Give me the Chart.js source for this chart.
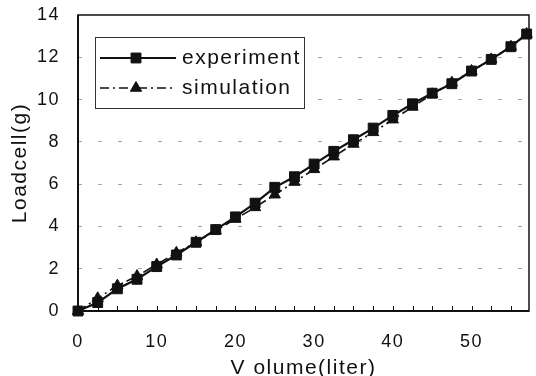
<!DOCTYPE html>
<html>
<head>
<meta charset="utf-8">
<script src="https://cdn.jsdelivr.net/npm/chart.js@4.4.0/dist/chart.umd.min.js"></script>
<style>
html,body{margin:0;padding:0;background:#fff;}
#wrap{width:536px;height:376px;}
</style>
</head>
<body>
<div id="wrap"><canvas id="chart" width="536" height="376"></canvas></div>
<script>
// values
const volume = [0,2.5,5,7.5,10,12.5,15,17.5,20,22.5,25,27.5,30,32.5,35,37.5,40,42.5,45,47.5,50,52.5,55,57];
const experiment = [0,0.4,1.05,1.5,2.1,2.65,3.25,3.85,4.45,5.1,5.85,6.35,6.95,7.55,8.1,8.65,9.25,9.8,10.3,10.75,11.35,11.9,12.5,13.1];
const simulation = [0,0.6,1.2,1.65,2.2,2.75,3.25,3.8,4.35,4.9,5.5,6.1,6.7,7.3,7.9,8.45,9.05,9.65,10.25,10.8,11.35,11.9,12.5,13.1];
const minorTicks = [2.5,5,7.5,10,12.5,15,17.5,20,22.5,25,27.5,30,32.5,35,37.5,40,42.5,45,47.5,50,52.5,55];
const seriesNames = ["experiment","simulation"];

const FONT = "'Liberation Sans', Arial, sans-serif";

function pts(xs, ys){ return xs.map((x,i)=>({x:x,y:ys[i]})); }

const extras = {
  id:'extras',
  beforeDraw(chart){
    chart.ctx.letterSpacing = "1.5px";
  },
  afterDatasetsDraw(chart){
    const ctx = chart.ctx;
    const a = chart.chartArea;
    const xs = chart.scales.x;
    ctx.save();
    ctx.letterSpacing = "0px";
    ctx.strokeStyle = "#111";
    // minor ticks on the bottom axis, pointing inward
    ctx.lineWidth = 1;
    ctx.beginPath();
    minorTicks.forEach(v=>{
      const px = Math.round(xs.getPixelForValue(v)) + 0.5;
      ctx.moveTo(px, a.bottom);
      ctx.lineTo(px, a.bottom - 5);
    });
    ctx.stroke();
    // frame
    ctx.lineWidth = 1.5;
    ctx.strokeRect(a.left, a.top, a.right - a.left, a.bottom - a.top);
    ctx.lineWidth = 2;
    ctx.beginPath();
    ctx.moveTo(a.left, a.top); ctx.lineTo(a.left, a.bottom); ctx.lineTo(a.right, a.bottom);
    ctx.stroke();
    ctx.restore();
  },
  afterDraw(chart){
    const ctx = chart.ctx;
    ctx.save();
    ctx.fillStyle = "#fff";
    ctx.fillRect(95, 37, 209, 71);
    ctx.strokeStyle = "#333";
    ctx.lineWidth = 1;
    ctx.strokeRect(95.5, 37.5, 209, 71);
    chart.data.datasets.forEach((ds, i)=>{
      const y = 58 + i*30;
      ctx.strokeStyle = "#111";
      ctx.fillStyle = "#111";
      ctx.lineWidth = ds.borderWidth;
      ctx.setLineDash(ds.borderDash || []);
      ctx.beginPath();
      ctx.moveTo(100, y); ctx.lineTo(176, y);
      ctx.stroke();
      ctx.setLineDash([]);
      ctx.lineWidth = 1;
      Chart.helpers.drawPoint(ctx, {pointStyle: ds.pointStyle, radius: ds.pointRadius, borderWidth: 1}, 136, y);
      ctx.letterSpacing = "1.5px";
      ctx.font = "21px " + FONT;
      ctx.textBaseline = "middle";
      ctx.textAlign = "left";
      ctx.fillText(seriesNames[i], 182, y);
    });
    ctx.restore();
  }
};

new Chart(document.getElementById("chart"), {
  type: "scatter",
  data: {
    datasets: [
      {
        label: seriesNames[0],
        data: pts(volume, experiment),
        showLine: true,
        borderColor: "#111",
        backgroundColor: "#111",
        borderWidth: 2.2,
        pointStyle: "rect",
        pointRadius: 7,
        pointBorderWidth: 1,
        clip: false
      },
      {
        label: seriesNames[1],
        data: pts(volume, simulation),
        showLine: true,
        borderColor: "#111",
        backgroundColor: "#111",
        borderWidth: 1.6,
        borderDash: [9,4,2,4],
        pointStyle: "triangle",
        pointRadius: 6.5,
        pointBorderWidth: 1,
        clip: false
      }
    ]
  },
  options: {
    responsive: false,
    animation: false,
    layout: { padding: { top: 15, right: 7, left: 0, bottom: 0 }, autoPadding: false },
    plugins: { legend: { display: false }, tooltip: { enabled: false } },
    scales: {
      x: {
        type: "linear",
        min: 0,
        max: 57.3,
        grid: { display: false, drawTicks: false },
        border: { display: false },
        ticks: { stepSize: 10, includeBounds: false, padding: 20, color: "#111", font: { family: FONT, size: 18 } },
        title: { display: true, text: "V olume(liter)", color: "#111", font: { family: FONT, size: 21 }, padding: { top: 0, bottom: -5 } },
        afterFit(s){ s.height = 65; s.paddingLeft = 0; s.paddingRight = 0; }
      },
      y: {
        min: 0,
        max: 14,
        grid: {
          drawTicks: false,
          color: (c)=> (c.tick.value === 0 || c.tick.value === 14) ? "rgba(0,0,0,0)" : "#a8a8a8",
          lineWidth: 1
        },
        border: { display: false, dash: [4,16] },
        ticks: { stepSize: 2, padding: 18, color: "#111", font: { family: FONT, size: 18 } },
        title: { display: true, text: "Loadcell(g)", color: "#111", font: { family: FONT, size: 21 }, padding: { top: 8, bottom: 0 } },
        afterFit(s){ s.width = 78; s.paddingTop = 0; s.paddingBottom = 0; }
      }
    }
  },
  plugins: [extras]
});
</script>
</body>
</html>
